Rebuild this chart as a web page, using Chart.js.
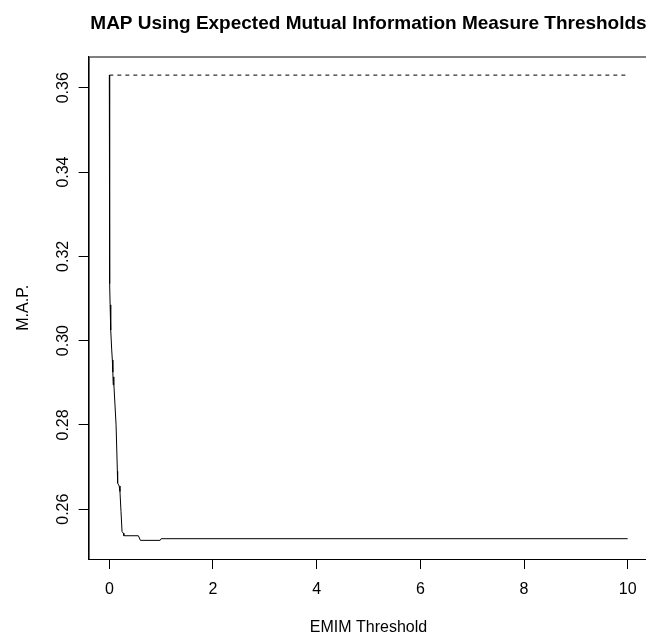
<!DOCTYPE html>
<html>
<head>
<meta charset="utf-8">
<title>MAP vs EMIM threshold</title>
<script src="https://cdn.jsdelivr.net/npm/chart.js@4/dist/chart.umd.min.js"></script>
<style>
  html, body { margin: 0; padding: 0; background: #fff; overflow: hidden; }
  canvas { display: block; }
</style>
</head>
<body>
<canvas id="mapChart" width="660" height="636"></canvas>
<script>
// EMIM threshold vs mean average precision
let thresholds = [0, 0.004, 0.008, 0.015, 0.027, 0.046, 0.058, 0.068, 0.075, 0.082, 0.09, 0.13, 0.155, 0.16, 0.19, 0.205, 0.225, 0.245, 0.27, 0.28, 0.56, 0.6, 0.98, 1.0, 10];
let mapValues = [0.363, 0.3145, 0.3135, 0.3085, 0.3025, 0.2978, 0.2954, 0.2925, 0.2895, 0.2914, 0.2900, 0.2800, 0.2690, 0.2662, 0.2655, 0.2642, 0.2595, 0.2547, 0.2543, 0.2537, 0.2537, 0.2526, 0.2526, 0.2530, 0.2530];

// reference level (no threshold), drawn dashed across the range
let baselineX = [0, 10];
let baselineMap = [0.363, 0.363];

let xTicks = [0, 2, 4, 6, 8, 10];
let yTicks = [0.26, 0.28, 0.30, 0.32, 0.34, 0.36];

let fontFamily = "'Liberation Sans', Arial, Helvetica, sans-serif";

renderMapChart();

function toPoints(xs, ys) {
  return xs.map((x, i) => ({ x: x, y: ys[i] }));
}

function renderMapChart() {
  let ctx = document.querySelector("#mapChart");

  // top/right edges of the plot box
  let boxPlugin = {
    id: "plotBox",
    afterDraw(chart) {
      let a = chart.chartArea;
      let c = chart.ctx;
      c.save();
      c.strokeStyle = "#000";
      c.lineWidth = 1;
      c.strokeRect(a.left + 0.5, a.top + 0.5, a.right - a.left, a.bottom - a.top);
      c.restore();
    },
  };

  new Chart(ctx, {
    type: "line",
    data: {
      datasets: [
        {
          data: toPoints(thresholds, mapValues),
          borderColor: "#000",
          borderWidth: 1,
          pointRadius: 0,
          tension: 0,
          fill: false,
        },
        {
          data: toPoints(baselineX, baselineMap),
          borderColor: "#000",
          borderWidth: 1,
          borderDash: [4, 4],
          pointRadius: 0,
          tension: 0,
          fill: false,
        },
      ],
    },
    options: {
      responsive: false,
      animation: false,
      layout: { padding: { left: 0, right: 11.6, top: 0, bottom: 0 } },
      plugins: {
        legend: { display: false },
        tooltip: { enabled: false },
        title: {
          display: true,
          fullSize: false,
          text: "MAP Using Expected Mutual Information Measure Thresholds",
          color: "#000",
          font: { family: fontFamily, size: 19, weight: "bold" },
          padding: { top: 12, bottom: 21.7 },
        },
      },
      scales: {
        x: {
          type: "linear",
          min: -0.4,
          max: 10.4,
          afterBuildTicks: (scale) => {
            scale.ticks = xTicks.map((v) => ({ value: v }));
          },
          afterFit: (scale) => {
            scale.height = 77;
          },
          grid: {
            drawOnChartArea: false,
            drawTicks: true,
            tickLength: 10,
            color: "#000",
          },
          border: { display: true, color: "#000", width: 1 },
          ticks: {
            autoSkip: false,
            maxRotation: 0,
            padding: 11,
            color: "#000",
            font: { family: fontFamily, size: 16 },
            callback: (v) => String(v),
          },
          title: {
            display: true,
            text: "EMIM Threshold",
            color: "#000",
            font: { family: fontFamily, size: 16, lineHeight: 1 },
            padding: { top: 0, bottom: 0 },
          },
        },
        y: {
          type: "linear",
          min: 0.24818,
          max: 0.36742,
          afterBuildTicks: (scale) => {
            scale.ticks = yTicks.map((v) => ({ value: v }));
          },
          afterFit: (scale) => {
            scale.width = 88.6;
          },
          grid: {
            drawOnChartArea: false,
            drawTicks: true,
            tickLength: 10,
            color: "#000",
          },
          border: { display: true, color: "#000", width: 1 },
          ticks: {
            autoSkip: false,
            minRotation: 90,
            maxRotation: 90,
            crossAlign: "center",
            padding: -1,
            color: "#000",
            font: { family: fontFamily, size: 16 },
            callback: (v) => v.toFixed(2),
          },
          title: {
            display: true,
            text: "M.A.P.",
            color: "#000",
            font: { family: fontFamily, size: 16 },
            padding: { top: 14, bottom: 0 },
          },
        },
      },
    },
    plugins: [boxPlugin],
  });
}
</script>
</body>
</html>
